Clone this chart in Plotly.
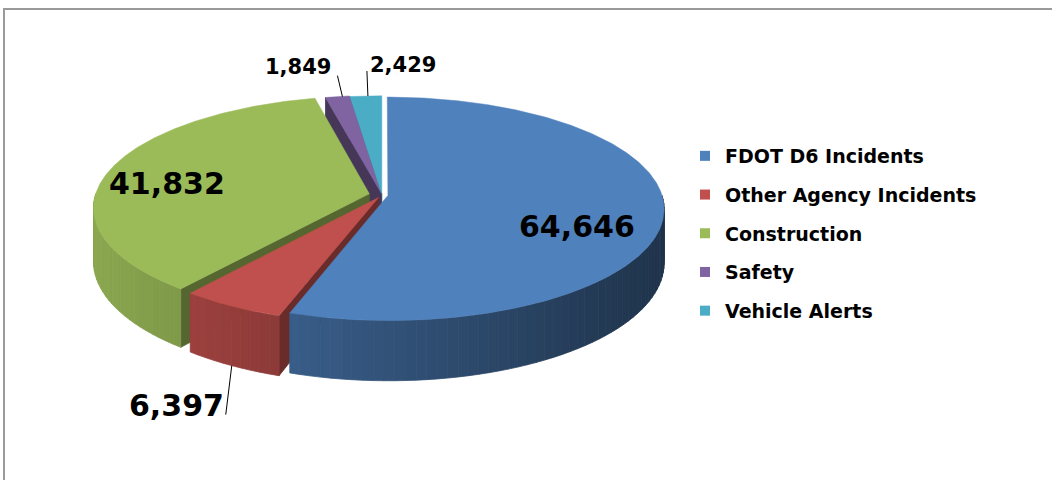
import numpy as np
import plotly.graph_objects as go

# ---------------- data ----------------
categories = ["FDOT D6 Incidents", "Other Agency Incidents", "Construction", "Safety", "Vehicle Alerts"]
values = [64646, 6397, 41832, 1849, 2429]
colors = ["#4F81BD", "#C0504D", "#9BBB59", "#8064A2", "#4BACC6"]

# ---------------- styling / layout constants ----------------
W, H = 1052, 480
cx, cy, rx, ry, depth, persp = 382.0, 195.0, 274.0, 110.0, 53.0, 0.12
explode_px = [6, 7, 13, 5, 3]
label_font = "DejaVu Sans"
label_size = [30, 30, 30, 21, 21]
label_xy = [(577, 226), (176, 405), (167, 183), (298, 67), (403, 65)]
# (height on wall, anchor nudge, leader vector)
leader_for = [None, (1.0, (0, 0), (-6, 49)), None, (0.0, (5, 0), (-5, -21)), (0.0, (2, 0), (-1, -25))]


def shade(hexcol, f):
    r, g, b = (int(hexcol[i:i + 2], 16) for i in (1, 3, 5))
    return "rgb(%d,%d,%d)" % (min(255, r * f), min(255, g * f), min(255, b * f))


def proj(X, Z, h=0.0):
    s = 1.0 / (1.0 + persp * Z)
    return cx + rx * X * s, cy - ry * Z * s + depth * h * s


total = float(sum(values))
angles = np.concatenate([[0.0], np.cumsum(values) / total * 360.0])

walls = []   # (z, xs, ys, color)
tops = []
slice_info = []
for i, v in enumerate(values):
    a0, a1 = angles[i], angles[i + 1]
    am = np.radians((a0 + a1) / 2)
    e = explode_px[i] / rx
    ex, ez = e * np.sin(am), e * np.cos(am)
    slice_info.append((ex, ez, am))

    # top face
    th = np.radians(np.linspace(a0, a1, max(3, int((a1 - a0) * 2) + 2)))
    px, py = proj(ex + np.sin(th), ez + np.cos(th))
    ax_, ay_ = proj(ex, ez)
    tops.append(([ax_] + list(px) + [ax_], [ay_] + list(py) + [ay_], colors[i]))

    # outer (curved) wall, front half only
    lo, hi = max(a0, 90.0), min(a1, 270.0)
    if hi > lo:
        n = max(1, int(np.ceil((hi - lo) / 2.0)))
        edges = np.linspace(lo, hi, n + 1)
        for j in range(n):
            t = np.radians(np.linspace(edges[j], edges[j + 1], 4))
            X, Z = ex + np.sin(t), ez + np.cos(t)
            xt, yt = proj(X, Z, 0)
            xb, yb = proj(X, Z, 1)
            xs = list(xt) + list(xb[::-1]) + [xt[0]]
            ys = list(yt) + list(yb[::-1]) + [yt[0]]
            xm = float(np.mean(xt))
            f = 0.9 - 0.5 * (xm - 90) / 573.0
            walls.append((float(np.mean(Z)), xs, ys, shade(colors[i], f)))

    # radial walls
    for ang, visible in ((a0, np.sin(np.radians(a0)) < -1e-6), (a1, np.sin(np.radians(a1)) > 1e-6)):
        if not visible:
            continue
        t = np.radians(ang)
        X0, Z0 = ex, ez
        X1, Z1 = ex + np.sin(t), ez + np.cos(t)
        p = [proj(X0, Z0, 0), proj(X1, Z1, 0), proj(X1, Z1, 1), proj(X0, Z0, 1), proj(X0, Z0, 0)]
        walls.append((0.5 * (Z0 + Z1), [q[0] for q in p], [q[1] for q in p], shade(colors[i], 0.55)))

fig = go.Figure()

for z, xs, ys, col in sorted(walls, key=lambda w: -w[0]):
    fig.add_trace(go.Scatter(x=xs, y=ys, mode="lines", fill="toself", fillcolor=col,
                             line=dict(color=col, width=0.8), hoverinfo="skip", showlegend=False))

for i, (xs, ys, col) in enumerate(tops):
    fig.add_trace(go.Scatter(x=xs, y=ys, mode="lines", fill="toself", fillcolor=col,
                             line=dict(color=col, width=0.5), name=categories[i],
                             text="%s: %s" % (categories[i], f"{values[i]:,}"), hoverinfo="text",
                             showlegend=False))

# legend entries
for i, c in enumerate(categories):
    fig.add_trace(go.Scatter(x=[None], y=[None], mode="markers", name=c, legendgroup=c,
                             marker=dict(symbol="square", size=10, color=colors[i]), showlegend=True))

# leader lines (anchored to slice geometry)
for i, lf in enumerate(leader_for):
    if lf is None:
        continue
    h, (nx, ny), (dx, dy) = lf
    ex, ez, am = slice_info[i]
    x0, y0 = proj(ex + np.sin(am), ez + np.cos(am), h)
    x0, y0 = x0 + nx, y0 + ny
    fig.add_trace(go.Scatter(x=[x0, x0 + dx], y=[y0, y0 + dy], mode="lines",
                             line=dict(color="black", width=1), hoverinfo="skip", showlegend=False))

# value labels
for i, v in enumerate(values):
    fig.add_annotation(x=label_xy[i][0], y=label_xy[i][1], text=f"{v:,}", showarrow=False,
                       font=dict(family=label_font, size=label_size[i], color="black", weight="bold"),
                       xanchor="center", yanchor="middle")

# chart-area border
fig.add_shape(type="rect", x0=4, y0=9, x1=W + 20, y1=H + 20, line=dict(color="#9a9a9a", width=2),
              xref="x", yref="y", layer="below")

fig.update_layout(
    width=W, height=H, autosize=False,
    margin=dict(l=0, r=0, t=0, b=0),
    paper_bgcolor="white", plot_bgcolor="white",
    xaxis=dict(range=[0, W], visible=False, fixedrange=True),
    yaxis=dict(range=[H, 0], visible=False, fixedrange=True),
    showlegend=True,
    legend=dict(x=685 / W, y=1 - 137 / H, xanchor="left", yanchor="top",
                font=dict(family=label_font, size=19, color="black", weight="bold"),
                tracegroupgap=11, traceorder="grouped", bgcolor="rgba(0,0,0,0)"),
)

fig.write_html("out.html", config={"displayModeBar": False},
               post_script="document.body.style.margin='0';")
